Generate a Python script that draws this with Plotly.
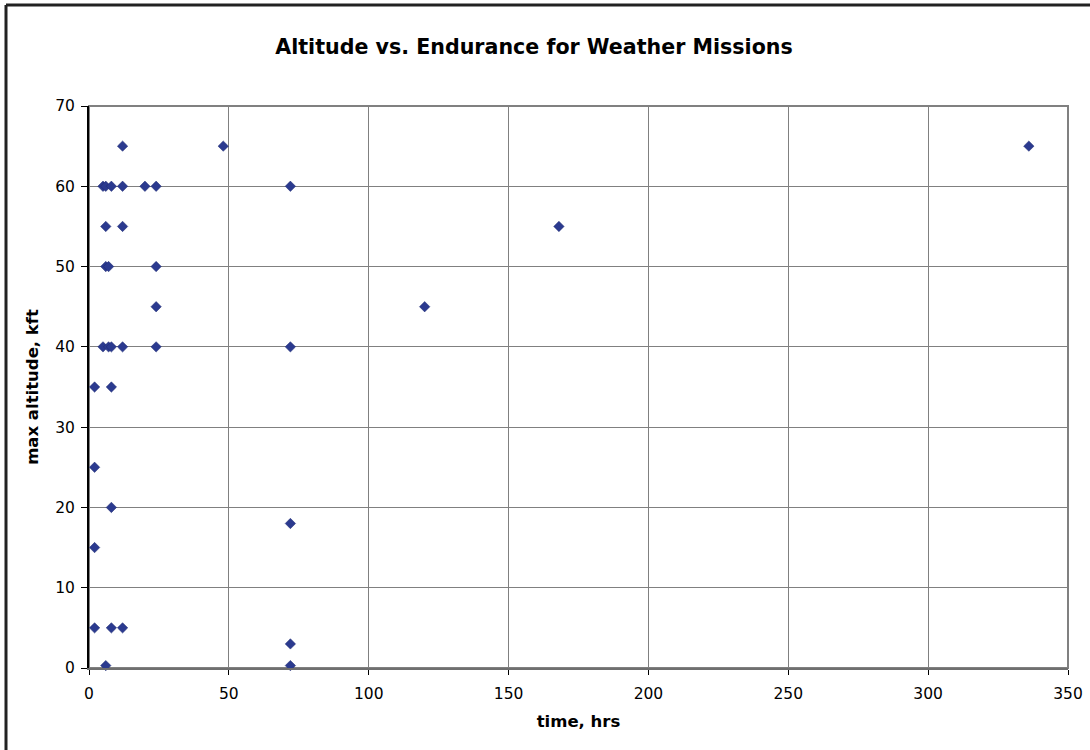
import plotly.graph_objects as go

time_hrs = [12, 48, 336,
            5, 6, 8, 12, 20, 24, 72,
            6, 12, 168,
            6, 7, 24,
            24, 120,
            5, 7, 8, 12, 24, 72,
            2, 8,
            2, 8, 2, 72,
            2, 8, 12,
            72, 6, 72]
altitude_kft = [65, 65, 65,
                60, 60, 60, 60, 60, 60, 60,
                55, 55, 55,
                50, 50, 50,
                45, 45,
                40, 40, 40, 40, 40, 40,
                35, 35,
                25, 20, 15, 18,
                5, 5, 5,
                3, 0.3, 0.3]

title_text = "Altitude vs. Endurance for Weather Missions"
x_title = "time, hrs"
y_title = "max altitude, kft"
x_ticks = [0, 50, 100, 150, 200, 250, 300, 350]
y_ticks = [0, 10, 20, 30, 40, 50, 60, 70]

fig = go.Figure()
fig.add_trace(go.Scatter(
    x=time_hrs, y=altitude_kft, mode="markers",
    marker=dict(symbol="diamond", size=8, color="#2B3A8F",
                line=dict(width=0.5, color="#1F2A70")),
    showlegend=False, cliponaxis=False,
))

font = "DejaVu Sans, Verdana, sans-serif"
PW, PH = 979, 562
fig.update_layout(
    width=1090, height=750,
    paper_bgcolor="white", plot_bgcolor="white",
    margin=dict(l=89, r=22, t=106, b=82, autoexpand=False),
    font=dict(family=font, size=15.5, color="black"),
    title=dict(text="<b>" + title_text + "</b>", x=534 / 1090, xref="container",
               xanchor="center", y=1 - 47 / 750, yref="container", yanchor="middle",
               font=dict(size=20.6)),
    xaxis=dict(
        range=[0, 350], tickvals=x_ticks, ticktext=[str(v) for v in x_ticks],
        showgrid=True, gridcolor="#808080", gridwidth=1,
        showline=True, linecolor="#6f6f6f", linewidth=2,
        ticks="outside", ticklen=5, tickcolor="black", tickwidth=1,
        ticklabelstandoff=5, automargin=False,
        zeroline=False,
        title=dict(text="<b>" + x_title + "</b>", font=dict(size=16.5), standoff=14),
        domain=[0, 1],
    ),
    yaxis=dict(
        range=[0, 70], tickvals=y_ticks, ticktext=[str(v) for v in y_ticks],
        showgrid=True, gridcolor="#808080", gridwidth=1,
        showline=True, linecolor="black", linewidth=2,
        ticks="outside", ticklen=6, tickcolor="black", tickwidth=1,
        ticklabelstandoff=3, automargin=False,
        zeroline=False,
        title=dict(text="<b>" + y_title + "</b>", font=dict(size=16.5), standoff=12),
    ),
    shapes=[
        dict(type="rect", xref="paper", yref="paper", x0=0, x1=1, y0=0, y1=1,
             line=dict(color="#808080", width=2), layer="below"),
        dict(type="line", xref="paper", yref="paper",
             x0=(6 - 89) / PW, x1=(6 - 89) / PW, y0=-82 / PH, y1=(668 - 5) / PH,
             line=dict(color="#222222", width=3)),
        dict(type="line", xref="paper", yref="paper",
             x0=(6 - 89) / PW, x1=(1090 - 89) / PW, y0=(668 - 5) / PH, y1=(668 - 5) / PH,
             line=dict(color="#222222", width=3)),
    ],
)

fig.write_html("out.html")
